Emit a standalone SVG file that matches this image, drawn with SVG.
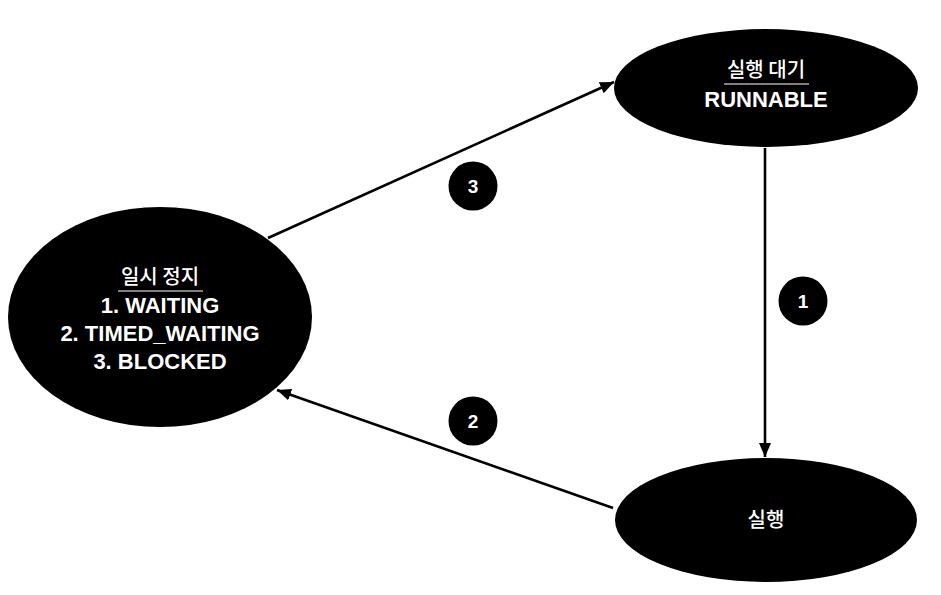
<svg xmlns="http://www.w3.org/2000/svg" width="941" height="595" viewBox="0 0 941 595">
<defs>
<style>
.node{fill:#000;}
.kr{font-family:"Noto Sans CJK KR","Noto Sans",sans-serif;font-size:20px;font-weight:500;fill:#fff;text-anchor:middle;}
.en{font-family:"Liberation Sans",Arial,sans-serif;font-size:22px;font-weight:bold;fill:#fff;text-anchor:middle;}
.badge{fill:#000;}
.num{font-family:"Liberation Sans",Arial,sans-serif;font-size:19px;font-weight:bold;fill:#fff;text-anchor:middle;}
.edge{stroke:#000;stroke-width:2.6;fill:none;}
.ul{stroke:#fff;stroke-width:1.2;}
</style>
<marker id="arrow" markerUnits="userSpaceOnUse" markerWidth="15" markerHeight="12" refX="14" refY="6" orient="auto">
<path d="M0,0 L14,6 L0,12 Z" fill="#000"/>
</marker>
</defs>
<rect width="941" height="595" fill="#fff"/>
<g id="connectors">
<line class="edge" x1="268" y1="238" x2="614" y2="82" marker-end="url(#arrow)"/>
<line class="edge" x1="765" y1="148" x2="765" y2="457" marker-end="url(#arrow)"/>
<line class="edge" x1="613" y1="508" x2="277" y2="390" marker-end="url(#arrow)"/>
</g>
<g id="node-runnable">
<ellipse class="node" cx="766" cy="88" rx="152" ry="59"/>
<text class="kr" x="766" y="77">실행 대기</text>
<line class="ul" x1="724" y1="84" x2="809" y2="84"/>
<text class="en" x="766" y="107">RUNNABLE</text>
</g>
<g id="node-paused">
<ellipse class="node" cx="160" cy="317" rx="152" ry="110"/>
<text class="kr" x="160" y="284">일시 정지</text>
<line class="ul" x1="118" y1="291" x2="203" y2="291"/>
<text class="en" x="160" y="313">1. WAITING</text>
<text class="en" x="160" y="341">2. TIMED_WAITING</text>
<text class="en" x="160" y="369">3. BLOCKED</text>
</g>
<g id="node-running">
<ellipse class="node" cx="766" cy="520" rx="151" ry="62"/>
<text class="kr" x="766" y="527">실행</text>
</g>
<g id="badge-3">
<circle class="badge" cx="473" cy="186" r="24.5"/>
<text class="num" x="473" y="193">3</text>
</g>
<g id="badge-1">
<circle class="badge" cx="803" cy="301" r="24.5"/>
<text class="num" x="803" y="308">1</text>
</g>
<g id="badge-2">
<circle class="badge" cx="473" cy="421" r="24.5"/>
<text class="num" x="473" y="428">2</text>
</g>
</svg>
